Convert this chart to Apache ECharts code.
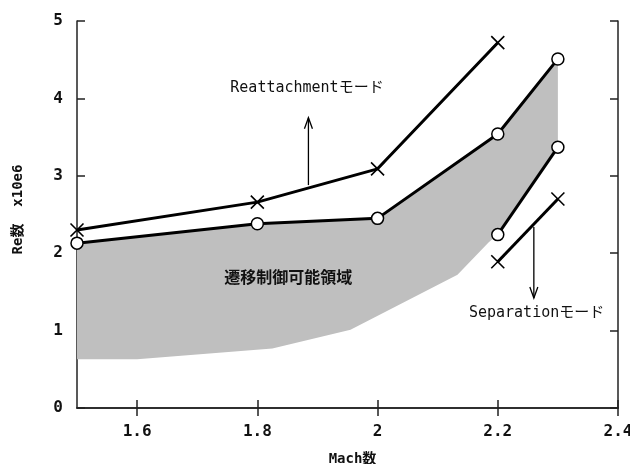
<!DOCTYPE html>
<html>
<head>
<meta charset="utf-8">
<script src="https://cdn.jsdelivr.net/npm/echarts@6/dist/echarts.min.js"></script>
<style>
  html, body { margin: 0; padding: 0; background: #fff; }
  #main { width: 630px; height: 464px; }
</style>
</head>
<body>
<div id="main"></div>
<script>
// Mach数 / Re数 (x10e6)
var xTicks = [1.6, 1.8, 2, 2.2, 2.4];

// Reattachment モード境界 (×)
var reattachMach = [1.5, 1.8, 2.0, 2.2];
var reattachRe = [2.30, 2.66, 3.09, 4.72];

// 遷移制御上限 (○)
var upperMach = [1.5, 1.8, 2.0, 2.2, 2.3];
var upperRe = [2.13, 2.38, 2.45, 3.54, 4.51];

// 遷移制御下限 (○)
var lowerMach = [2.2, 2.3];
var lowerRe = [2.24, 3.37];

// Separation モード境界 (×)
var sepMach = [2.2, 2.3];
var sepRe = [1.89, 2.70];

// 遷移制御可能領域 (灰色の多角形)
var regionMach = [1.5, 1.8, 2.0, 2.2, 2.3, 2.3, 2.2, 2.185, 2.133, 1.955, 1.825, 1.6, 1.5];
var regionRe = [2.13, 2.38, 2.45, 3.54, 4.51, 3.37, 2.24, 2.14, 1.72, 1.01, 0.77, 0.63, 0.63];

// 注記
var notes = [
  [1.755, 4.13, 'Reattachmentモード', 'normal', 15],
  [2.152, 1.23, 'Separationモード', 'normal', 15],
  [1.745, 1.67, '遷移制御可能領域', 'bold', 16]
];
var arrows = [
  [1.885, 2.88, 1.885, 3.75],
  [2.26, 2.34, 2.26, 1.42]
];

function pairs(xs, ys) {
  return xs.map(function (x, i) { return [x, ys[i]]; });
}

var crossSym = 'path://M0,0L10,10M10,0L0,10';
var monoFont = '"DejaVu Sans Mono", "Noto Sans CJK JP", monospace';

var chart = echarts.init(document.getElementById('main'));

var option = {
  backgroundColor: '#fff',
  animation: false,
  grid: { left: 77, right: 12, top: 21, bottom: 56, outerBoundsMode: 'none', containLabel: false },
  xAxis: [
    {
      type: 'value',
      min: 1.5,
      max: 2.4,
      name: 'Mach数',
      nameLocation: 'middle',
      nameGap: 44,
      nameTextStyle: { fontFamily: monoFont, fontSize: 14, fontWeight: 'bold', color: '#111', padding: [0, 0, 0, 10] },
      axisLine: { lineStyle: { color: '#222', width: 1.5 } },
      axisTick: { inside: true, length: 8, customValues: xTicks, lineStyle: { color: '#222', width: 1.5 } },
      axisLabel: {
        customValues: xTicks,
        margin: 16,
        fontFamily: monoFont,
        fontSize: 16,
        fontWeight: 'bold',
        color: '#111',
        formatter: function (v) { return String(Math.round(v * 10) / 10); }
      },
      splitLine: { show: false }
    },
    {
      type: 'value',
      position: 'top',
      min: 1.5,
      max: 2.4,
      axisLine: { lineStyle: { color: '#222', width: 1.5 } },
      axisTick: { inside: true, length: 8, customValues: xTicks, lineStyle: { color: '#222', width: 1.5 } },
      axisLabel: { show: false },
      splitLine: { show: false }
    }
  ],
  yAxis: [
    {
      type: 'value',
      min: 0,
      max: 5,
      interval: 1,
      name: 'Re数  x10e6',
      nameLocation: 'middle',
      nameGap: 52,
      nameTextStyle: { fontFamily: monoFont, fontSize: 14, fontWeight: 'bold', color: '#111', padding: [0, 0, 0, 10] },
      axisLine: { show: true, lineStyle: { color: '#222', width: 1.5 } },
      axisTick: { show: true, inside: true, length: 8, lineStyle: { color: '#222', width: 1.5 } },
      axisLabel: { margin: 14, fontFamily: monoFont, fontSize: 16, fontWeight: 'bold', color: '#111' },
      splitLine: { show: false }
    },
    {
      type: 'value',
      position: 'right',
      min: 0,
      max: 5,
      interval: 1,
      axisLine: { show: true, lineStyle: { color: '#222', width: 1.5 } },
      axisTick: { show: true, inside: true, length: 8, lineStyle: { color: '#222', width: 1.5 } },
      axisLabel: { show: false },
      splitLine: { show: false }
    }
  ],
  series: [
    {
      name: 'region',
      type: 'custom',
      z: 1,
      clip: true,
      data: [0],
      renderItem: function (params, api) {
        var pts = regionMach.map(function (m, i) { return api.coord([m, regionRe[i]]); });
        return {
          type: 'polygon',
          shape: { points: pts },
          style: { fill: '#bfbfbf', stroke: null }
        };
      }
    },
    {
      name: 'Reattachment',
      type: 'line',
      z: 5,
      clip: false,
      data: pairs(reattachMach, reattachRe),
      symbol: crossSym,
      symbolSize: 13,
      showAllSymbol: true,
      lineStyle: { color: '#000', width: 3 },
      itemStyle: { color: 'transparent', borderColor: '#000', borderWidth: 1.6 }
    },
    {
      name: 'upper',
      type: 'line',
      z: 5,
      clip: false,
      data: pairs(upperMach, upperRe),
      symbol: 'circle',
      symbolSize: 12,
      showAllSymbol: true,
      lineStyle: { color: '#000', width: 3 },
      itemStyle: { color: '#fff', borderColor: '#000', borderWidth: 1.5 }
    },
    {
      name: 'lower',
      type: 'line',
      z: 5,
      clip: false,
      data: pairs(lowerMach, lowerRe),
      symbol: 'circle',
      symbolSize: 12,
      showAllSymbol: true,
      lineStyle: { color: '#000', width: 3 },
      itemStyle: { color: '#fff', borderColor: '#000', borderWidth: 1.5 }
    },
    {
      name: 'Separation',
      type: 'line',
      z: 5,
      clip: false,
      data: pairs(sepMach, sepRe),
      symbol: crossSym,
      symbolSize: 13,
      showAllSymbol: true,
      lineStyle: { color: '#000', width: 3 },
      itemStyle: { color: 'transparent', borderColor: '#000', borderWidth: 1.6 }
    },
    {
      name: 'arrows',
      type: 'custom',
      z: 4,
      data: arrows,
      renderItem: function (params, api) {
        var a = api.coord([api.value(0), api.value(1)]);
        var b = api.coord([api.value(2), api.value(3)]);
        var dir = b[1] < a[1] ? 1 : -1;
        var st = { stroke: '#000', lineWidth: 1.3, fill: null };
        return {
          type: 'group',
          children: [
            { type: 'line', shape: { x1: a[0], y1: a[1], x2: b[0], y2: b[1] }, style: st },
            { type: 'polyline', shape: { points: [[b[0] - 4, b[1] + dir * 11], [b[0], b[1]], [b[0] + 4, b[1] + dir * 11]] }, style: st }
          ]
        };
      }
    },
    {
      name: 'notes',
      type: 'custom',
      z: 6,
      data: notes,
      renderItem: function (params, api) {
        var n = notes[params.dataIndex];
        var p = api.coord([n[0], n[1]]);
        return {
          type: 'text',
          x: p[0],
          y: p[1],
          style: {
            text: n[2],
            fill: '#111',
            font: n[3] + ' ' + n[4] + 'px ' + monoFont,
            verticalAlign: 'middle',
            align: 'left'
          }
        };
      }
    }
  ]
};

chart.setOption(option);
</script>
</body>
</html>
